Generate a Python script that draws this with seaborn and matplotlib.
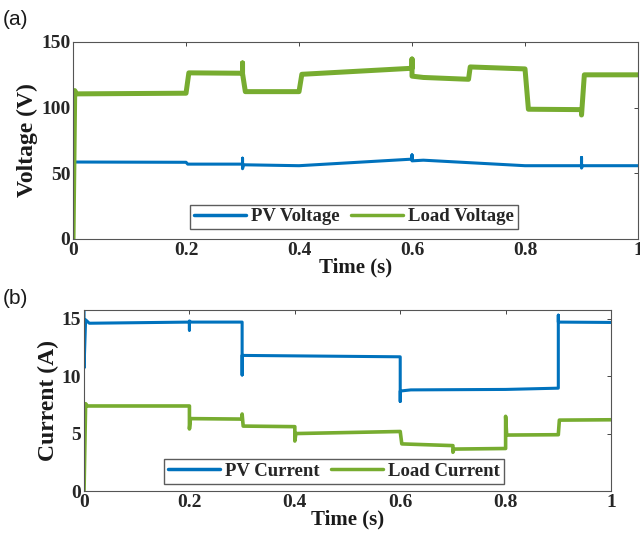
import matplotlib
matplotlib.use("Agg")
import matplotlib.pyplot as plt
import seaborn as sns
import pandas as pd

# ---------------- data ----------------
time_ticks = [0, 0.2, 0.4, 0.6, 0.8, 1.0]
time_tick_labels = ["0", "0.2", "0.4", "0.6", "0.8", "1"]
volt_ticks = [0, 50, 100, 150]
curr_ticks = [0, 5, 10, 15]

# PV voltage (V)
t_pv_v = [0, 0.003, 0.2, 0.203, 0.3, 0.3, 0.3, 0.302, 0.4, 0.6, 0.6, 0.6, 0.62, 0.8, 0.9, 0.9, 0.9, 0.902, 1.0]
pv_v = [64, 58.6, 58.4, 57.0, 57.0, 61.5, 53.5, 56.5, 55.8, 60.8, 64.0, 59.5, 60.0, 55.8, 55.8, 62.0, 54.0, 55.8, 55.8]

# Load voltage (V)
t_load_v = [0, 0.003, 0.006, 0.2, 0.205, 0.3, 0.3, 0.3, 0.305, 0.4, 0.405, 0.6, 0.6, 0.6, 0.62, 0.7, 0.703, 0.8, 0.806, 0.9, 0.9, 0.905, 1.0]
load_v = [0, 113, 110.5, 111, 126.5, 126.2, 134, 126, 112.2, 112.2, 125.4, 130, 137, 124, 123, 121.6, 131, 129.5, 98.8, 98.5, 94.4, 125, 125]

# PV current (A)
t_pv_i = [0, 0, 0.003, 0.01, 0.2, 0.2, 0.2, 0.202, 0.3, 0.3, 0.3, 0.6, 0.6, 0.6, 0.62, 0.8, 0.9, 0.9, 0.9, 1.0]
pv_i = [15.8, 10.7, 14.9, 14.6, 14.7, 14.0, 14.8, 14.7, 14.7, 10.1, 11.8, 11.68, 7.8, 8.7, 8.8, 8.84, 8.95, 15.3, 14.7, 14.67]

# Load current (A)
t_load_i = [0, 0.003, 0.006, 0.2, 0.2, 0.202, 0.3, 0.3, 0.302, 0.4, 0.4, 0.402, 0.6, 0.603, 0.7, 0.7, 0.702, 0.8, 0.8, 0.802, 0.9, 0.902, 1.0]
load_i = [0, 7.6, 7.4, 7.4, 5.4, 6.3, 6.26, 6.7, 5.65, 5.6, 4.35, 5.0, 5.18, 4.1, 3.95, 3.37, 3.65, 3.7, 6.5, 4.87, 4.9, 6.17, 6.2]

BLUE = "#0072BD"
GREEN = "#77AC30"

# ---------------- style ----------------
sns.set_theme(style="white")
plt.rcParams["font.family"] = ["Liberation Serif", "DejaVu Serif"]
plt.rcParams["font.weight"] = "bold"

fig = plt.figure(figsize=(6.4, 5.44), dpi=100)
ax_a = fig.add_axes([0.1141, 0.5607, 0.8828, 0.3621])
ax_b = fig.add_axes([0.1313, 0.0974, 0.8234, 0.3327])


def draw(ax, t1, y1, lab1, lw1, t2, y2, lab2, lw2):
    d1 = pd.DataFrame({"t": t1, "y": y1})
    d2 = pd.DataFrame({"t": t2, "y": y2})
    sns.lineplot(data=d1, x="t", y="y", ax=ax, sort=False, estimator=None,
                 color=BLUE, linewidth=lw1, label=lab1)
    sns.lineplot(data=d2, x="t", y="y", ax=ax, sort=False, estimator=None,
                 color=GREEN, linewidth=lw2, label=lab2)


draw(ax_a, t_pv_v, pv_v, "PV Voltage", 2.2, t_load_v, load_v, "Load Voltage", 3.6)
draw(ax_b, t_pv_i, pv_i, "PV Current", 2.2, t_load_i, load_i, "Load Current", 2.6)


def style(ax, ylim, yticks, ylabel, leg_anchor):
    ax.set_xlim(0, 1)
    ax.set_ylim(*ylim)
    ax.set_xticks(time_ticks)
    ax.set_xticklabels(time_tick_labels)
    ax.set_yticks(yticks)
    ax.set_yticklabels([str(v) for v in yticks])
    ax.tick_params(direction="in", length=3, width=0.6, top=True, right=True,
                   labelsize=14, pad=2, colors="#262626")
    for lbl in ax.get_xticklabels() + ax.get_yticklabels():
        lbl.set_fontweight("bold")
        lbl.set_color("#262626")
    for s in ax.spines.values():
        s.set_color("#555555")
        s.set_linewidth(0.8)
        s.set_visible(True)
    ax.set_xlabel("Time (s)", fontsize=15, fontweight="bold", labelpad=-1, color="#1a1a1a")
    ax.set_ylabel(ylabel, fontsize=17, fontweight="bold", labelpad=2, color="#1a1a1a")
    leg = ax.legend(loc="lower center", bbox_to_anchor=leg_anchor, ncol=2,
                    frameon=True, fancybox=False, edgecolor="#333333",
                    prop={"family": "Liberation Serif", "weight": "bold", "size": 13.5},
                    handlelength=2.8, handletextpad=0.25, columnspacing=0.6,
                    borderpad=0.2, borderaxespad=0)
    leg.get_frame().set_linewidth(1.0)
    for line in leg.get_lines():
        line.set_linewidth(2.5)


style(ax_a, (0, 150), volt_ticks, "Voltage (V)", (0.497, 0.05))
style(ax_b, (0, 15.75), curr_ticks, "Current (A)", (0.474, 0.04))

fig.text(0.005, 0.965, "(a)", fontsize=15, family="Liberation Sans", weight="normal",
         va="center", ha="left", color="#1a1a1a")
fig.text(0.005, 0.452, "(b)", fontsize=15, family="Liberation Sans", weight="normal",
         va="center", ha="left", color="#1a1a1a")

fig.savefig("out.png", dpi=100, facecolor="white")
